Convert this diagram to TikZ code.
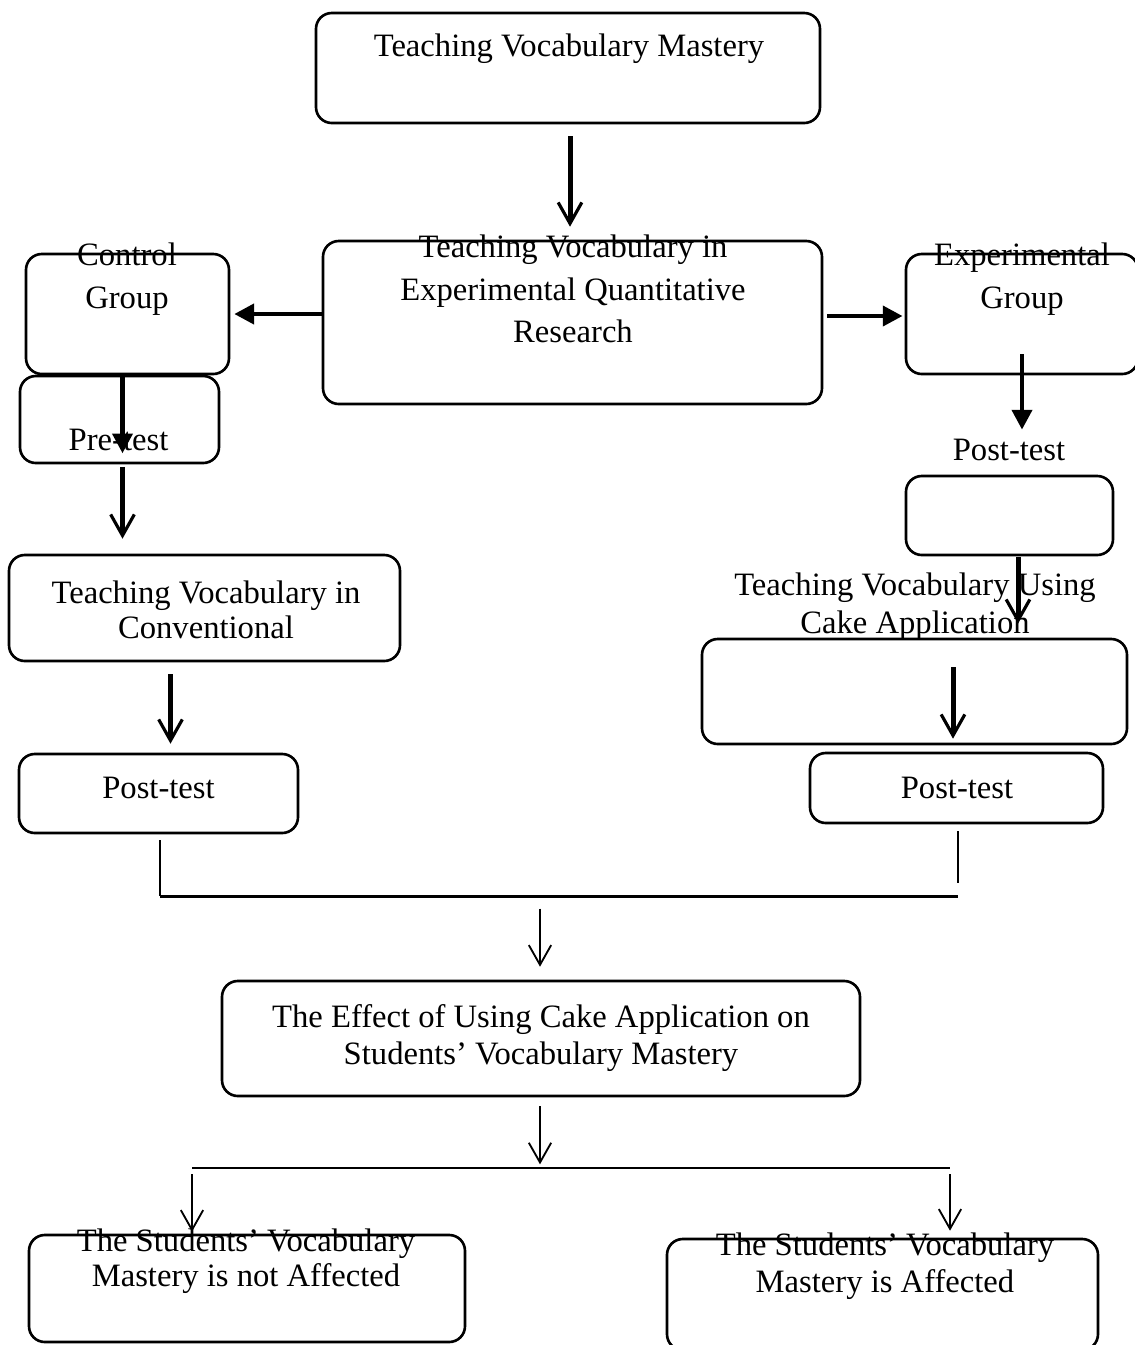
\documentclass[tikz,border=0pt]{standalone}
\usepackage{fontspec}
\setmainfont{Liberation Serif}
\usetikzlibrary{arrows.meta,calc,fit}
\begin{document}
\begin{tikzpicture}[x=0.38pt,y=-0.38pt,
  box/.style={draw, line width=1pt, rounded corners=6pt, inner sep=0pt},
  txt/.style={inner sep=0pt, align=center, font=\fontsize{12.4pt}{#1}\selectfont},
  txt/.default=16.2pt,
  fatarrow/.style={line width=1.7pt, -{Triangle[length=7.5pt,width=7.5pt]}},
  thickv/.style={line width=1.9pt, -{Straight Barb[length=8pt,width=9pt,line width=1.2pt]}},
  thinv/.style={line width=0.7pt, -{Straight Barb[length=7.5pt,width=8.5pt,line width=0.7pt]}},
  conn/.style={line width=0.8pt},
  hconn/.style={line width=1.1pt}]
\fill[white] (0,0) rectangle (1135,1345);
\useasboundingbox (0,0) rectangle (1135,1345);

% boxes
\node[box, fit={(316,13) (820,123)}] (b1) {};
\node[box, fit={(323,241) (822,404)}] (b2) {};
\node[box, fit={(26,254) (229,374)}] (cg) {};
\node[box, fit={(906,254) (1138,374)}] (eg) {};
\node[box, fit={(20,376) (219,463)}] (pt) {};
\node[box, fit={(9,555) (400,661)}] (conv) {};
\node[box, fit={(19,754) (298,833)}] (lpt) {};
\node[box, fit={(906,476) (1113,555)}] (e1) {};
\node[box, fit={(702,639) (1127,744)}] (e2) {};
\node[box, fit={(810,753) (1103,823)}] (rpt) {};
\node[box, fit={(222,981) (860,1096)}] (eff) {};
\node[box, fit={(29,1235) (465,1342)}] (bl) {};
\node[box, fit={(667,1239) (1098,1350)}] (br) {};

% texts
\node[txt] (t1) at (569,49) {Teaching Vocabulary Mastery};
\node[txt] (t2) at (573,289) {Teaching Vocabulary in\\Experimental Quantitative\\Research};
\node[txt] (tcg) at (127,279) {Control\\Group};
\node[txt] (teg) at (1022,279) {Experimental\\Group};
\node[txt] (tpt) at (118.5,440) {Pre-test};
\node[txt] (pl) at (1009,450) {Post-test};
\node[txt=13.3pt] (tconv) at (206,610) {Teaching Vocabulary in\\Conventional};
\node[txt=14.4pt] (tcake) at (915,607) {Teaching Vocabulary Using\\Cake Application};
\node[txt] (tlpt) at (158.5,788) {Post-test};
\node[txt] (trpt) at (957,788) {Post-test};
\node[txt=13.7pt] (teff) at (541,1038) {The Effect of Using Cake Application on\\Students’ Vocabulary Mastery};
\node[txt=13.3pt] (tbl) at (246,1261) {The Students’ Vocabulary\\Mastery is not Affected};
\node[txt=14pt] (tbr) at (885,1266) {The Students’ Vocabulary\\Mastery is Affected};

% connectors
\draw[thickv] ($(b1.south)+(2,12)$) -- ($(b1.south |- b2.north)+(2,-13)$);
\draw[fatarrow, shorten >=1.5pt] (b2.west |- cg.east) -- (cg.east);
\draw[fatarrow, shorten <=1.5pt, shorten >=0.8pt] ($(b2.east |- eg.west)+(0,2)$) -- ($(eg.west)+(0,2)$);
\draw[fatarrow] ($(cg.south)+(-5,1)$) -- ($(cg.south |- pt.south)+(-5,-11)$);
\draw[thickv] ($(pt.south)+(3,2.5)$) -- ($(pt.south |- conv.north)+(3,-15)$);
\draw[thickv] ($(conv.south -| lpt.north)+(12,12)$) -- ($(lpt.north)+(12,-9)$);
\draw[fatarrow] ($(eg.south)+(0,-21)$) -- ($(eg.south |- pl.north)+(0,-9)$);
\draw[thickv] ($(e1.south)+(8.5,1)$) -- ($(e1.south |- e2.north)+(8.5,-14)$);
\draw[thickv] ($(rpt.north |- e2.center)+(-3.5,-24.5)$) -- ($(rpt.north)+(-3.5,-13)$);

\coordinate (jl) at ($(lpt.south)+(1.5,62)$);
\coordinate (jr) at ($(rpt.south)+(1.5,72)$);
\draw[conn] ($(lpt.south)+(1.5,6)$) -- (jl);
\draw[hconn] (jl) -- (jl -| jr);
\draw[conn] ($(rpt.south)+(1.5,7)$) -- ($(rpt.south)+(1.5,59)$);
\draw[thinv] ($(eff.north)+(-1,-71)$) -- ($(eff.north)+(-1,-13)$);
\draw[thinv] ($(eff.south)+(-1,9)$) -- ($(eff.south)+(-1,67)$);

\coordinate (sl) at (192,1168);
\coordinate (sr) at (950,1168);
\draw[hconn] (sl) -- (sr);
\draw[thinv] ($(sl)+(0,6)$) -- ($(sl |- bl.north)+(0,-2)$);
\draw[thinv] ($(sr)+(0,6)$) -- ($(sr |- br.north)+(0,-7)$);
\end{tikzpicture}
\end{document}
